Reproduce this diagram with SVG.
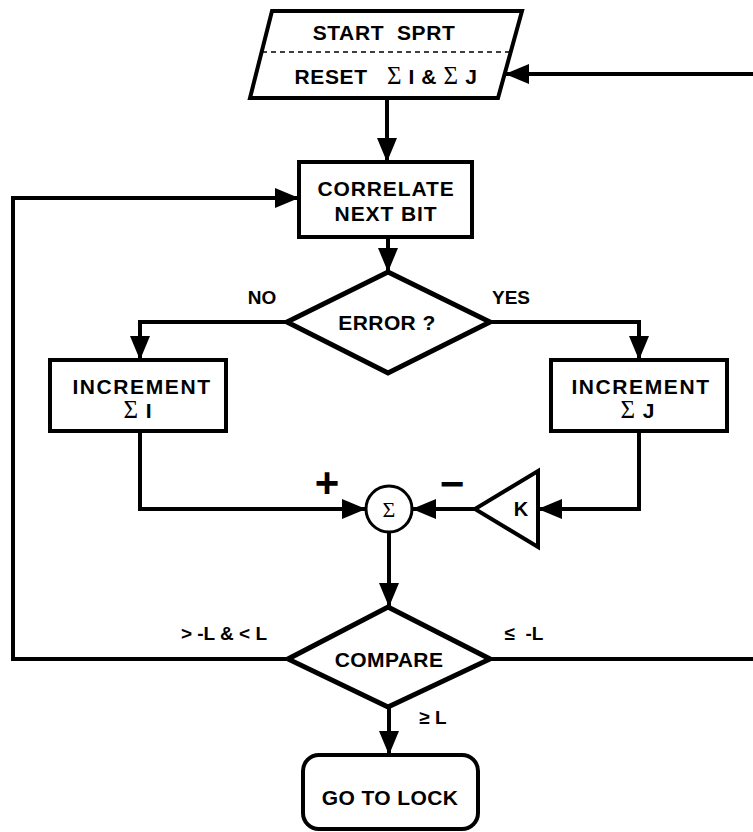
<svg xmlns="http://www.w3.org/2000/svg" width="753" height="832" viewBox="0 0 753 832">
<defs>
<style>
.shape{fill:#fff;stroke:#000;stroke-width:4;stroke-linejoin:miter}
.dia{fill:#fff;stroke:#000;stroke-width:5;stroke-linejoin:miter}
.conn{fill:none;stroke:#000;stroke-width:4}
.t{font-family:"Liberation Sans",Arial,sans-serif;font-weight:bold;font-size:21px;letter-spacing:0.9px;text-anchor:middle;fill:#000;white-space:pre}
.lbl{font-family:"Liberation Sans",Arial,sans-serif;font-weight:bold;font-size:19px;text-anchor:middle;fill:#000;white-space:pre}
.sig{font-family:"Liberation Serif","DejaVu Serif",serif;font-weight:normal}
</style>
<marker id="ah" markerUnits="userSpaceOnUse" markerWidth="24" markerHeight="20" refX="24" refY="10" orient="auto">
<path d="M0,0 L24,10 L0,20 z" fill="#000"/>
</marker>
</defs>
<rect width="753" height="832" fill="#fff"/>
<g id="connectors">
<line class="conn" x1="753" y1="74" x2="505" y2="74" marker-end="url(#ah)"/>
<line class="conn" x1="387" y1="98" x2="387" y2="162" marker-end="url(#ah)"/>
<polyline class="conn" points="288,659 13,659 13,198 299,198" marker-end="url(#ah)"/>
<line class="conn" x1="388" y1="237" x2="388" y2="272" marker-end="url(#ah)"/>
<polyline class="conn" points="287,322 140,322 140,360" marker-end="url(#ah)"/>
<polyline class="conn" points="490,322 639,322 639,360" marker-end="url(#ah)"/>
<polyline class="conn" points="140,431 140,509 366,509" marker-end="url(#ah)"/>
<polyline class="conn" points="639,431 639,509 538,509" marker-end="url(#ah)"/>
<line class="conn" x1="475" y1="509" x2="412" y2="509" marker-end="url(#ah)"/>
<line class="conn" x1="389" y1="532" x2="389" y2="607" marker-end="url(#ah)"/>
<line class="conn" x1="490" y1="659" x2="753" y2="659"/>
<line class="conn" x1="389" y1="707" x2="389" y2="755" marker-end="url(#ah)"/>
<text class="lbl" x="262" y="304">NO</text>
<text class="lbl" x="511" y="304">YES</text>
<text class="lbl" x="327" y="497" style="font-size:42px">+</text>
<text class="lbl" x="452" y="498" style="font-size:42px">−</text>
<text class="lbl" x="224" y="640">&gt; -L &amp; &lt; L</text>
<text class="lbl" x="524" y="640">≤  -L</text>
<text class="lbl" x="433" y="724">≥ L</text>
</g>
<g id="start">
<polygon class="shape" points="272,11 522,11 498,98 250,98"/>
<line x1="262" y1="52" x2="510" y2="52" stroke="#000" stroke-width="1.5" stroke-dasharray="5,4"/>
<text class="t" x="384" y="40" style="letter-spacing:0.6px">START  SPRT</text>
<text class="t" x="386" y="84" style="letter-spacing:0.6px">RESET   <tspan class="sig" font-size="25">Σ</tspan> I &amp; <tspan class="sig" font-size="25">Σ</tspan> J</text>
</g>
<g id="correlate">
<rect class="shape" x="299" y="162" width="173" height="75"/>
<text class="t" x="386" y="196">CORRELATE</text>
<text class="t" x="386" y="221">NEXT BIT</text>
</g>
<g id="error">
<polygon class="dia" points="388,272 490,322 388,373 287,322"/>
<text class="t" x="387" y="330" style="letter-spacing:0.4px">ERROR ?</text>
</g>
<g id="incI">
<rect class="shape" x="50" y="360" width="176" height="71"/>
<text class="t" x="142" y="394" style="letter-spacing:1.6px">INCREMENT</text>
<text class="t" x="138" y="418"><tspan class="sig" font-size="25">Σ</tspan> I</text>
</g>
<g id="incJ">
<rect class="shape" x="551" y="360" width="176" height="71"/>
<text class="t" x="641" y="394" style="letter-spacing:1.6px">INCREMENT</text>
<text class="t" x="638" y="418"><tspan class="sig" font-size="25">Σ</tspan> J</text>
</g>
<g id="sum">
<circle class="shape" cx="389" cy="509" r="23" style="stroke-width:3"/>
<text class="t sig" x="389" y="517" style="font-size:22px;letter-spacing:0">Σ</text>
</g>
<g id="gainK">
<polygon class="shape" points="538,471 538,547 475,509"/>
<text class="t" x="521" y="516" style="letter-spacing:0;font-size:20px">K</text>
</g>
<g id="compare">
<polygon class="dia" points="388,607 490,659 388,707 288,659"/>
<text class="t" x="389" y="667" style="letter-spacing:0.4px">COMPARE</text>
</g>
<g id="lock">
<rect class="shape" x="303" y="755" width="175" height="74" rx="16"/>
<text class="t" x="390" y="805" style="letter-spacing:0.4px">GO TO LOCK</text>
</g>
</svg>
